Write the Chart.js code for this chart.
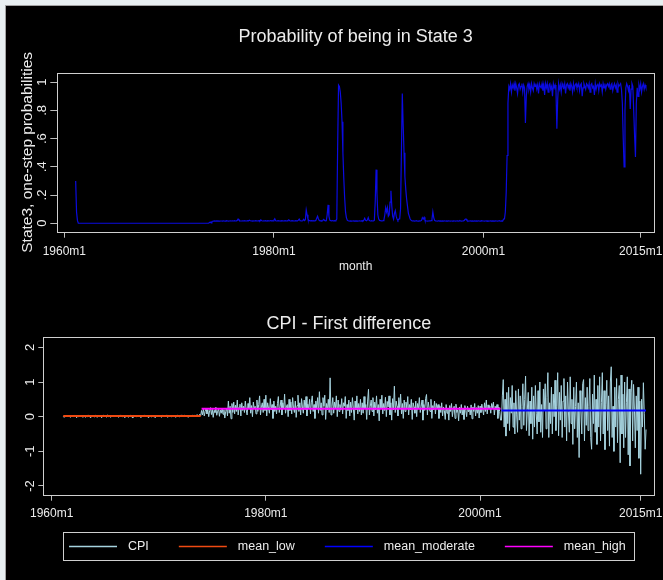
<!DOCTYPE html>
<html>
<head>
<meta charset="utf-8">
<script src="https://cdn.jsdelivr.net/npm/chart.js@4.4.1/dist/chart.umd.min.js"></script>
<style>
  html, body { margin: 0; padding: 0; background: #e8eff1; }
  #frame {
    position: absolute; left: 5px; top: 5px; width: 657px; height: 574px;
    background: #000; border-left: 1px solid #a3a3a3; border-top: 1px solid #a3a3a3;
  }
  canvas { position: absolute; left: 0; }
  #probChart { top: 0; }
  #cpiChart { top: 275px; }
</style>
</head>
<body>
<div id="frame">
  <canvas id="probChart" width="657" height="275"></canvas>
  <canvas id="cpiChart" width="657" height="299"></canvas>
</div>
<script>
// monthly series, first observation 1961m2
const startYear = 1961;
const startMonth = 2;

const xTickValues = [1960, 1980, 2000, 2015];
const xTickLabels = ['1960m1', '1980m1', '2000m1', '2015m1'];
const probTickValues = [0, 0.2, 0.4, 0.6, 0.8, 1];
const probTickLabels = ['0', '.2', '.4', '.6', '.8', '1'];
const cpiTickValues = [-2, -1, 0, 1, 2];
const cpiTickLabels = ['-2', '-1', '0', '1', '2'];

// State 3 one-step probabilities (one row per year)
const state3Prob = [
    0.30,0.08,0.02,0,0,0,0,0,0,0,0,
    0,0,0,0,0,0,0,0,0,0,0,0,
    0,0,0,0,0,0,0,0,0,0,0,0,
    0,0,0,0,0,0,0,0,0,0,0,0,
    0,0,0,0,0,0,0,0,0,0,0,0,
    0,0,0,0,0,0,0,0,0,0,0,0,
    0,0,0,0,0,0,0,0,0,0,0,0,
    0,0,0,0,0,0,0,0,0,0,0,0,
    0,0,0,0,0,0,0,0,0,0,0,0,
    0,0,0,0,0,0,0,0,0,0,0,0,
    0,0,0,0,0,0,0,0,0,0,0,0,
    0,0,0,0,0,0,0,0,0,0,0,0,
    0,0,0,0,0,0,0,0,0,0,0.004,0.008,
    0.003,0.012,0.014,0.015,0.016,0.015,0.016,0.015,0.017,0.016,0.015,0.016,
    0.016,0.015,0.017,0.016,0.015,0.016,0.018,0.016,0.015,0.016,0.017,0.016,
    0.016,0.017,0.016,0.018,0.016,0.017,0.020,0.030,0.022,0.017,0.016,0.016,
    0.017,0.016,0.018,0.016,0.017,0.016,0.018,0.017,0.022,0.018,0.016,0.017,
    0.016,0.017,0.016,0.018,0.017,0.016,0.017,0.018,0.016,0.024,0.018,0.016,
    0.017,0.016,0.018,0.017,0.016,0.018,0.017,0.016,0.019,0.017,0.018,0.016,
    0.022,0.032,0.018,0.016,0.017,0.018,0.016,0.017,0.016,0.018,0.017,0.016,
    0.017,0.018,0.016,0.017,0.020,0.025,0.018,0.016,0.017,0.018,0.016,0.017,
    0.016,0.018,0.017,0.016,0.022,0.030,0.018,0.017,0.016,0.018,0.028,0.019,
    0.025,0.094,0.060,0.030,0.020,0.018,0.017,0.019,0.017,0.018,0.016,0.018,
    0.020,0.035,0.050,0.030,0.019,0.017,0.018,0.016,0.020,0.027,0.020,0.017,
    0.018,0.060,0.130,0.050,0.022,0.018,0.017,0.019,0.016,0.018,0.017,0.020,
    0.030,0.550,0.980,0.970,0.930,0.850,0.720,0.500,0.320,0.180,0.080,0.040,
    0.022,0.018,0.016,0.015,0.016,0.015,0.016,0.017,0.015,0.016,0.015,0.016,
    0.015,0.016,0.017,0.016,0.015,0.018,0.016,0.022,0.035,0.020,0.017,0.024,
    0.040,0.020,0.017,0.016,0.018,0.016,0.017,0.020,0.150,0.380,0.210,0.060,
    0.030,0.020,0.018,0.017,0.016,0.018,0.025,0.060,0.110,0.080,0.110,0.050,
    0.060,0.150,0.230,0.120,0.050,0.030,0.070,0.090,0.050,0.030,0.020,0.030,
    0.030,0.100,0.500,0.920,0.700,0.500,0.330,0.240,0.170,0.120,0.070,0.050,
    0.030,0.022,0.018,0.016,0.017,0.015,0.016,0.018,0.016,0.015,0.016,0.017,
    0.016,0.020,0.040,0.030,0.042,0.020,0.017,0.016,0.015,0.016,0.017,0.016,
    0.018,0.030,0.080,0.040,0.020,0.017,0.016,0.015,0.016,0.017,0.015,0.016,
    0.015,0.016,0.015,0.017,0.016,0.015,0.016,0.015,0.017,0.016,0.015,0.016,
    0.016,0.015,0.017,0.016,0.015,0.016,0.017,0.015,0.016,0.018,0.016,0.015,
    0.016,0.017,0.020,0.028,0.030,0.020,0.016,0.015,0.016,0.017,0.015,0.016,
    0.015,0.016,0.017,0.015,0.016,0.015,0.017,0.016,0.015,0.016,0.018,0.016,
    0.016,0.015,0.016,0.017,0.015,0.016,0.015,0.016,0.017,0.015,0.016,0.015,
    0.016,0.015,0.017,0.016,0.015,0.016,0.018,0.016,0.015,0.017,0.016,0.030,
    0.030,0.080,0.220,0.480,0.850,0.970,0.950,0.990,0.930,0.980,0.960,0.990,
    0.940,0.990,0.960,0.920,0.980,0.990,0.950,0.970,0.990,0.930,0.980,0.960,
    0.710,0.900,0.970,0.990,0.950,0.980,0.930,0.990,0.960,0.940,0.990,0.970,
    0.990,0.950,0.980,0.920,0.990,0.970,0.960,0.990,0.940,0.980,0.910,0.990,
    0.960,0.990,0.930,0.980,0.990,0.950,0.970,0.900,0.990,0.960,0.980,0.940,
    0.670,0.880,0.990,0.950,0.980,0.930,0.990,0.970,0.960,0.990,0.920,0.980,
    0.990,0.960,0.980,0.940,0.990,0.970,0.930,0.990,0.950,0.980,0.990,0.960,
    0.970,0.990,0.940,0.980,0.990,0.900,0.960,0.990,0.970,0.950,0.990,0.980,
    0.960,0.990,0.930,0.980,0.990,0.960,0.970,0.910,0.990,0.950,0.980,0.990,
    0.940,0.990,0.970,0.980,0.930,0.990,0.960,0.990,0.950,0.980,0.990,0.970,
    0.990,0.950,0.980,0.990,0.940,0.970,0.990,0.960,0.980,0.930,0.990,0.970,
    0.980,0.990,0.950,0.850,0.600,0.400,0.800,0.960,0.990,0.970,0.940,0.980,
    0.810,0.950,0.990,0.970,0.800,0.620,0.470,0.850,0.960,0.900,0.980,0.950,
    0.990,0.930,0.970,0.990,0.950,0.980,0.960
];

// CPI, first difference (one row per year)
const cpiDiff = [
    0.01,-0.02,0.03,0.00,0.02,-0.01,0.04,0.01,-0.02,0.03,0.00,
    0.02,-0.01,0.03,0.01,-0.03,0.02,0.00,0.04,-0.01,0.02,0.03,-0.02,
    0.01,0.03,-0.02,0.02,0.00,0.05,0.01,-0.02,0.03,0.00,0.02,0.01,
    -0.01,0.04,0.02,-0.02,0.03,0.01,0.00,0.03,-0.03,0.02,0.04,0.00,
    0.02,-0.01,0.03,0.05,0.00,0.02,-0.02,0.03,0.01,0.04,-0.01,0.02,
    0.03,0.00,0.04,-0.02,0.02,0.05,0.01,-0.01,0.03,0.02,-0.03,0.04,
    0.01,0.03,-0.02,0.02,0.04,0.00,0.02,-0.04,0.03,0.01,0.02,0.00,
    0.03,-0.01,0.02,0.04,-0.02,0.01,0.03,0.00,0.05,-0.01,0.02,0.03,
    -0.02,0.02,0.04,0.01,-0.01,0.03,0.00,0.02,-0.03,0.04,0.01,0.02,
    0.00,0.03,0.01,-0.02,0.04,0.02,-0.01,0.03,0.01,0.05,-0.02,0.02,
    0.03,0.01,-0.01,0.04,0.02,0.00,0.03,-0.02,0.02,0.04,0.01,-0.01,
    0.02,0.05,0.00,0.03,-0.01,0.04,0.02,0.01,0.03,-0.02,0.04,0.02,
    0.03,0.00,0.04,0.02,0.05,0.01,0.03,0.06,0.02,0.04,0.07,0.03,
    0.18,0.05,0.22,0.02,0.15,0.25,0.08,0.20,0.00,0.17,0.26,0.06,
    0.21,-0.02,0.18,0.12,0.27,0.04,0.16,0.22,0.01,0.19,0.10,0.24,
    0.07,0.20,-0.04,0.15,0.25,0.02,0.45,0.10,0.30,-0.06,0.38,0.12,
    0.42,0.08,0.33,0.15,0.48,0.05,0.28,0.36,0.02,0.40,0.18,0.30,
    0.12,0.45,0.20,0.05,0.38,0.25,0.55,0.10,0.32,0.00,0.42,0.22,
    0.30,0.08,0.48,0.15,0.35,0.60,0.05,0.28,0.40,0.12,0.50,0.18,
    0.62,0.02,0.40,0.25,0.10,0.52,0.20,0.35,-0.05,0.45,0.15,0.30,
    0.08,0.38,0.58,0.12,0.30,0.48,0.05,0.40,0.22,0.65,0.10,0.28,
    0.35,0.00,0.50,0.18,0.42,0.08,0.55,0.25,0.12,0.45,-0.02,0.32,
    0.62,0.15,0.40,0.05,0.52,0.28,0.10,0.48,0.20,0.58,0.02,0.36,
    0.22,0.50,0.08,0.42,0.60,0.15,0.35,-0.05,0.45,0.25,0.55,0.10,
    0.72,0.18,0.40,0.05,0.55,0.30,0.62,-0.08,0.38,0.20,0.50,0.12,
    1.12,0.05,0.30,0.55,0.10,0.42,0.25,0.60,0.00,0.48,0.15,0.35,
    0.20,0.52,0.08,0.40,0.30,0.58,-0.05,0.35,0.18,0.48,0.02,0.42,
    0.12,0.55,0.25,-0.10,0.45,0.20,0.60,0.08,0.38,0.15,0.50,0.05,
    0.40,0.10,0.58,0.22,0.35,-0.08,0.45,0.79,0.05,0.30,0.48,0.15,
    0.55,0.02,0.42,0.20,0.60,0.10,0.35,-0.12,0.50,0.25,0.62,0.08,
    0.38,0.18,0.56,0.00,0.44,0.28,0.60,0.05,0.40,-0.10,0.52,0.20,
    0.88,0.12,0.45,0.30,0.02,0.55,0.22,0.65,0.08,0.38,-0.05,0.48,
    0.15,0.42,0.25,0.58,0.05,0.35,0.20,0.50,-0.08,0.40,0.28,0.10,
    0.45,0.00,0.38,0.22,0.55,0.12,0.30,0.48,-0.10,0.35,0.18,0.52,
    0.64,0.05,0.42,0.25,0.15,0.50,-0.05,0.32,0.20,0.45,0.08,0.38,
    0.22,0.35,-0.05,0.30,0.12,0.40,0.02,0.28,0.18,-0.08,0.35,0.10,
    0.25,-0.10,0.32,0.15,0.38,0.00,0.22,0.30,-0.05,0.36,0.12,0.20,
    -0.12,0.28,0.10,0.35,0.05,0.25,-0.08,0.32,0.18,0.00,0.30,0.14,
    0.24,0.05,0.34,-0.06,0.28,0.15,0.38,0.02,0.26,0.10,0.32,-0.04,
    0.30,0.12,0.36,0.20,0.05,0.40,0.15,0.48,0.08,0.34,0.22,0.30,
    0.10,0.38,0.25,0.42,0.05,0.30,0.20,0.35,-0.05,0.28,0.15,-0.10,
    -0.10,0.60,1.07,-0.30,0.50,-0.56,0.70,-0.20,0.85,-0.40,0.55,0.10,
    0.90,-0.30,0.40,-0.50,0.75,0.05,-0.45,0.80,-0.10,0.60,-0.35,0.30,
    0.95,-0.25,0.50,1.17,-0.40,0.20,0.70,-0.55,0.45,-0.20,0.85,-0.65,
    0.60,-0.30,0.90,0.10,-0.50,0.75,-0.15,1.00,-0.45,0.35,-0.60,0.80,
    0.20,0.95,-0.35,0.55,1.27,-0.60,0.40,-0.20,0.85,-0.50,0.65,0.00,
    1.05,-0.40,0.30,1.27,-0.55,0.70,-0.10,0.90,-0.60,0.45,1.10,-0.30,
    0.60,-0.70,1.00,0.15,-0.45,1.15,-0.20,0.50,-0.80,0.85,-0.35,0.30,
    1.00,-0.60,0.40,-1.18,0.75,0.20,-0.50,0.95,1.07,-0.70,0.55,-0.25,
    0.85,-0.40,0.30,1.10,-0.60,-0.94,0.65,-0.20,1.20,-0.45,0.50,-0.80,
    0.90,-0.30,1.15,-0.70,0.40,1.27,-0.50,0.75,-0.95,0.35,1.05,-0.40,
    0.60,-0.85,1.00,1.44,-0.60,0.30,-1.00,0.85,-0.30,1.10,-0.75,0.50,
    0.90,-1.33,1.20,-0.50,0.65,-0.90,1.00,-0.60,0.40,1.15,-1.10,0.80,
    -1.42,0.70,1.05,-0.70,0.93,0.20,-0.90,0.60,-0.40,0.85,-1.20,0.45,
    -1.66,0.50,-0.30,0.98,0.10,-0.94,-0.37
];

// regime means of the CPI first difference
const regimeNames = ['mean_low', 'mean_moderate', 'mean_high'];
const regimeFrom = ['1961m2', '2002m1', '1974m1'];
const regimeTo = ['1973m12', '2015m7', '2001m12'];
const regimeMean = [0.02, 0.18, 0.23];

const monthToX = (s) => {
    const [y, m] = s.split('m').map(Number);
    return y + (m - 1) / 12;
};
const monthX = (i) => startYear + (startMonth - 1 + i) / 12;
const toPoints = (arr) => arr.map((v, i) => ({ x: monthX(i), y: v }));

const textColor = '#ececec';
const axisColor = '#bdbdbd';
const sans = "'Liberation Sans', Arial, sans-serif";

// plot region outline, like Stata's
const stataFrame = {
    id: 'stataFrame',
    afterDatasetsDraw(chart) {
        const { ctx, chartArea: a } = chart;
        ctx.save();
        ctx.strokeStyle = '#cfcfcf';
        ctx.lineWidth = 1;
        ctx.strokeRect(Math.round(a.left) + 0.5, Math.round(a.top) + 0.5,
            Math.round(a.right - a.left), Math.round(a.bottom - a.top));
        ctx.restore();
    },
};

// title centred over the plot region
const panelTitle = {
    id: 'panelTitle',
    afterDraw(chart, args, opts) {
        const { ctx, chartArea: a } = chart;
        ctx.save();
        ctx.fillStyle = textColor;
        ctx.font = '18px ' + sans;
        ctx.textAlign = 'center';
        ctx.textBaseline = 'alphabetic';
        ctx.fillText(opts.text, (a.left + a.right) / 2, opts.baseline);
        ctx.restore();
    },
};

// boxed one-row legend under the lower panel
const keyBox = {
    id: 'keyBox',
    afterDraw(chart, args, opts) {
        const { ctx, chartArea: a } = chart;
        const items = chart.data.datasets.map((d) => ({ label: d.label, color: d.borderColor }));
        ctx.save();
        ctx.font = '12.5px ' + sans;
        const widths = items.map((it) => ctx.measureText(it.label).width);
        const sample = 48, gapText = 11, gapItem = 30, padL = 6, padR = 8;
        const total = padL + padR + gapItem * (items.length - 1)
            + widths.reduce((s, w) => s + sample + gapText + w, 0);
        const left = Math.round((a.left + a.right) / 2 - total / 2);
        ctx.strokeStyle = '#cfcfcf';
        ctx.lineWidth = 1;
        ctx.strokeRect(left + 0.5, opts.top + 0.5, Math.round(total), opts.height);
        const cy = opts.top + opts.height / 2 + 0.5;
        let x = left + padL;
        items.forEach((it, i) => {
            ctx.strokeStyle = it.color;
            ctx.lineWidth = 1.5;
            ctx.beginPath();
            ctx.moveTo(x, cy);
            ctx.lineTo(x + sample, cy);
            ctx.stroke();
            x += sample + gapText;
            ctx.fillStyle = textColor;
            ctx.textBaseline = 'middle';
            ctx.fillText(it.label, x, cy);
            x += widths[i] + gapItem;
        });
        ctx.restore();
    },
};

const xScale = (min, max, height, tickLen, pad, title) => ({
    type: 'linear',
    min, max,
    afterBuildTicks: (s) => { s.ticks = xTickValues.map((v) => ({ value: v })); },
    afterFit: (s) => {
        s.height = height;
        // keep the plot region where it is, labels may overhang
        s.paddingLeft = 0;
        s.paddingRight = 0;
    },
    ticks: {
        callback: (v, i) => xTickLabels[i],
        color: textColor, font: { family: sans, size: 12 },
        padding: pad, maxRotation: 0, autoSkip: false,
    },
    grid: { drawOnChartArea: false, tickLength: tickLen, color: axisColor },
    border: { display: false },
    title: title,
});

const yScale = (min, max, values, labels, width, tickLen, pad, title) => ({
    min, max,
    afterBuildTicks: (s) => { s.ticks = values.map((v) => ({ value: v })); },
    afterFit: (s) => {
        s.width = width;
        s.paddingTop = 0;
        s.paddingBottom = 0;
    },
    ticks: {
        callback: (v, i) => labels[i],
        color: textColor, font: { family: sans, size: 13 },
        minRotation: 90, maxRotation: 90, crossAlign: 'center', padding: pad, autoSkip: false,
    },
    grid: { drawOnChartArea: false, tickLength: tickLen, color: axisColor },
    border: { display: false },
    title: title,
});

new Chart(document.getElementById('probChart'), {
    type: 'line',
    data: {
        datasets: [{
            label: 'State3, one-step probabilities',
            data: toPoints(state3Prob),
            borderColor: '#0b0be0',
            borderWidth: 1.2,
            pointRadius: 0,
        }],
    },
    options: {
        responsive: false,
        animation: false,
        layout: { padding: { top: 67, right: 9, left: 0, bottom: 0 } },
        plugins: {
            legend: { display: false },
            tooltip: { enabled: false },
            panelTitle: { text: 'Probability of being in State 3', baseline: 36 },
        },
        scales: {
            x: xScale(1959.33, 2016.27, 49.3, 6, 6.5, {
                display: true, text: 'month', color: textColor,
                font: { family: sans, size: 12 }, padding: { top: 0, bottom: 7 },
            }),
            y: yScale(-0.06, 1.065, probTickValues, probTickLabels, 51.3, 7, 2.5, {
                display: true, text: 'State3, one-step probabilities', color: textColor,
                font: { family: sans, size: 15.5 }, padding: { top: 12, bottom: 0 },
            }),
        },
    },
    plugins: [stataFrame, panelTitle],
});

const regimeColors = { mean_low: '#f04a12', mean_moderate: '#0000ff', mean_high: '#ff00ff' };

new Chart(document.getElementById('cpiChart'), {
    type: 'line',
    data: {
        datasets: [
            {
                label: 'CPI',
                data: toPoints(cpiDiff),
                borderColor: '#a6d3df',
                borderWidth: 1,
                pointRadius: 0,
                order: 2,
            },
            ...regimeNames.map((name, k) => ({
                label: name,
                data: [
                    { x: monthToX(regimeFrom[k]), y: regimeMean[k] },
                    { x: monthToX(regimeTo[k]), y: regimeMean[k] },
                ],
                borderColor: regimeColors[name],
                borderWidth: 2,
                pointRadius: 0,
                order: 1,
            })),
        ],
    },
    options: {
        responsive: false,
        animation: false,
        layout: { padding: { top: 56.3, right: 8.7, left: 0, bottom: 50 } },
        plugins: {
            legend: { display: false },
            tooltip: { enabled: false },
            panelTitle: { text: 'CPI - First difference', baseline: 48 },
            keyBox: { top: 251, height: 28 },
        },
        scales: {
            x: xScale(1959.22, 2016.27, 34.3, 5, 5.5, { display: false }),
            y: yScale(-2.28, 2.29, cpiTickValues, cpiTickLabels, 37.3, 5, 2, { display: false }),
        },
    },
    plugins: [stataFrame, panelTitle, keyBox],
});
</script>
</body>
</html>
